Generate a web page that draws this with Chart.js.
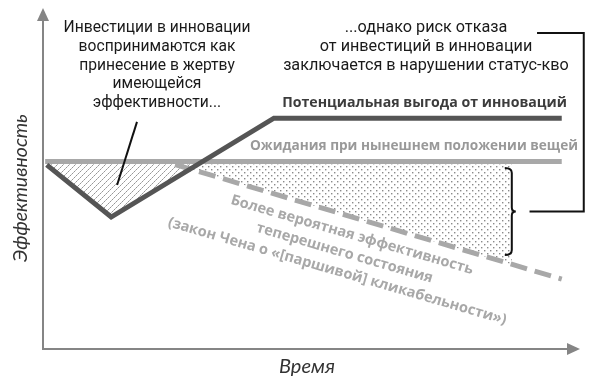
<!DOCTYPE html>
<html><head><meta charset="utf-8">
<script src="https://cdn.jsdelivr.net/npm/chart.js@4.4.0/dist/chart.umd.min.js"></script>
<style>html,body{margin:0;padding:0;background:#fff}#wrap{width:600px;height:386px}</style>
</head><body><div id="wrap"><canvas id="c" width="600" height="386"></canvas></div>
<script>
// ---- data (arbitrary units: time 0..100, effectiveness 0..100) ----
const potentialX   = [0.7, 12.7, 43, 96.6];
const potentialY   = [54, 38.7, 67.7, 67.7];
const expectationX = [0.4, 96.6];
const expectationY = [55, 55];
const likelyX      = [24.6, 96.6];
const likelyY      = [54.1, 20.5];
const riskZoneX    = [24.6, 87.3];
const riskZoneY    = [54.1, 24.8];
const expectationLevel = 55;

// ---- texts ----
const leftNote  = ['Инвестиции в инновации', 'воспринимаются как', 'принесение в жертву', 'имеющейся', 'эффективности...'];
const rightNote = ['...однако риск отказа', 'от инвестиций в инновации', 'заключается в нарушении статус-кво'];
const potentialLabel   = 'Потенциальная выгода от инноваций';
const expectationLabel = 'Ожидания при нынешнем положении вещей';
const likelyLabel = ['Более вероятная эффективность', 'теперешнего состояния', '(закон Чена о «[паршивой] кликабельности»)'];
const xTitle = 'Время';
const yTitle = 'Эффективность';

// annotation anchors in data units
const pointerLine = [[17.5, 66.6], [13.8, 48.1]];
const bracket = {x: 87.3, top: 53.1, bottom: 27.6};
const connector = [[90.6, 40.3], [100.7, 40.3], [100.7, 92.7], [92, 92.7]];

function pts(xs, ys) { return xs.map((x, i) => ({x, y: ys[i]})); }

function makeHatch() {
  const c = document.createElement('canvas'); c.width = 6; c.height = 6;
  const g = c.getContext('2d');
  for (let i = 0; i < 6; i++) { g.fillStyle = i % 2 ? '#bcbcbc' : '#969696'; g.fillRect(i, 5 - i, 1, 1); }
  return g.createPattern(c, 'repeat');
}
function makeDots() {
  const c = document.createElement('canvas'); c.width = 6; c.height = 6;
  const g = c.getContext('2d'); g.fillStyle = '#8a8a8a';
  g.fillRect(1, 1, 1.4, 1.4); g.fillRect(4, 4, 1.4, 1.4);
  return g.createPattern(c, 'repeat');
}
const hatch = makeHatch();
const dots = makeDots();

const SANS = '"Open Sans", "Noto Sans", sans-serif';
const NOTE = 'Roboto, "Open Sans", sans-serif';
function fitFont(ctx, text, width, prefix, family) {
  ctx.font = prefix + ' 100px ' + family;
  const s = 100 * width / ctx.measureText(text).width;
  return prefix + ' ' + s.toFixed(2) + 'px ' + family;
}

const annotate = {
  id: 'annotate',
  afterDatasetsDraw(chart) {
    const ctx = chart.ctx, xs = chart.scales.x, ys = chart.scales.y;
    const X = v => xs.getPixelForValue(v), Y = v => ys.getPixelForValue(v);
    const ca = chart.chartArea;
    ctx.save();
    // axes with arrows
    ctx.strokeStyle = '#858585'; ctx.fillStyle = '#858585'; ctx.lineWidth = 2;
    const ox = X(0), oy = Y(0);
    ctx.beginPath(); ctx.moveTo(ox, oy + 1); ctx.lineTo(ox, ca.top + 12); ctx.stroke();
    ctx.beginPath(); ctx.moveTo(ox - 1, oy); ctx.lineTo(ca.right - 12, oy); ctx.stroke();
    ctx.beginPath(); ctx.moveTo(ox, ca.top); ctx.lineTo(ox - 6, ca.top + 13); ctx.lineTo(ox + 6, ca.top + 13); ctx.closePath(); ctx.fill();
    ctx.beginPath(); ctx.moveTo(ca.right, oy); ctx.lineTo(ca.right - 13, oy - 6); ctx.lineTo(ca.right - 13, oy + 6); ctx.closePath(); ctx.fill();

    // pointer line
    ctx.strokeStyle = '#111'; ctx.lineWidth = 2;
    ctx.beginPath(); ctx.moveTo(X(pointerLine[0][0]), Y(pointerLine[0][1])); ctx.lineTo(X(pointerLine[1][0]), Y(pointerLine[1][1])); ctx.stroke();

    // curly bracket
    const bx = X(bracket.x), bt = Y(bracket.top), bb = Y(bracket.bottom), bm = (bt + bb) / 2;
    ctx.beginPath();
    ctx.moveTo(bx - 7, bt);
    ctx.quadraticCurveTo(bx, bt, bx, bt + 5);
    ctx.lineTo(bx, bm - 4);
    ctx.quadraticCurveTo(bx, bm, bx + 4, bm);
    ctx.quadraticCurveTo(bx, bm, bx, bm + 4);
    ctx.lineTo(bx, bb - 5);
    ctx.quadraticCurveTo(bx, bb, bx - 7, bb);
    ctx.stroke();
    // connector
    ctx.beginPath();
    connector.forEach((p, i) => i ? ctx.lineTo(X(p[0]), Y(p[1])) : ctx.moveTo(X(p[0]), Y(p[1])));
    ctx.stroke();

    // texts
    ctx.textAlign = 'center'; ctx.textBaseline = 'middle';
    ctx.fillStyle = '#1a1a1a';
    ctx.font = fitFont(ctx, leftNote[0], 187, '', NOTE);
    leftNote.forEach((t, i) => ctx.fillText(t, 157, 28 + i * 18.8));
    ctx.font = fitFont(ctx, rightNote[2], 286, '', NOTE);
    rightNote.forEach((t, i) => ctx.fillText(t, 426, 28 + i * 19));

    ctx.textAlign = 'right';
    ctx.fillStyle = '#3c3c3c'; ctx.font = fitFont(ctx, potentialLabel, 285, 'bold', SANS);
    ctx.fillText(potentialLabel, 567, 103);
    ctx.fillStyle = '#999'; ctx.font = fitFont(ctx, expectationLabel, 328, 'bold', SANS);
    ctx.fillText(expectationLabel, 578, 146);

    // rotated label along the dashed line
    const ang = Math.atan2(Y(likelyY[1]) - Y(likelyY[0]), X(likelyX[1]) - X(likelyX[0]));
    ctx.save();
    ctx.translate(352, 235); ctx.rotate(ang - 0.005);
    ctx.textAlign = 'center'; ctx.fillStyle = '#a8a8a8';
    ctx.font = fitFont(ctx, likelyLabel[0], 252, 'bold', SANS);
    likelyLabel.forEach((t, i) => ctx.fillText(t, -2 * i, i * 19.5));
    ctx.restore();

    // axis titles
    ctx.fillStyle = '#333';
    ctx.textAlign = 'center';
    ctx.font = fitFont(ctx, xTitle, 56, 'italic', 'Lato, "DejaVu Sans", sans-serif');
    ctx.fillText(xTitle, 307, 367);
    ctx.save(); ctx.translate(21, 188); ctx.rotate(-Math.PI / 2);
    ctx.font = fitFont(ctx, yTitle, 148, 'italic', 'Lato, "DejaVu Sans", sans-serif');
    ctx.fillText(yTitle, 0, 0); ctx.restore();
    ctx.restore();
  }
};

new Chart(document.getElementById('c'), {
  type: 'line',
  data: {
    datasets: [
      { label: 'potential', data: pts(potentialX, potentialY), borderColor: '#555', borderWidth: 5,
        fill: {value: expectationLevel, above: 'rgba(0,0,0,0)', below: hatch}, borderJoinStyle: 'miter' },
      { label: 'expectation', data: pts(expectationX, expectationY), borderColor: '#a8a8a8', borderWidth: 5, fill: false },
      { label: 'likely', data: pts(likelyX, likelyY), borderColor: '#a8a8a8', borderWidth: 5, borderDash: [17, 8], fill: false, borderCapStyle: 'butt' },
      { label: 'risk', data: pts(riskZoneX, riskZoneY), borderWidth: 0, borderColor: 'rgba(0,0,0,0)',
        fill: {value: expectationLevel}, backgroundColor: dots }
    ]
  },
  options: {
    responsive: false, animation: false, devicePixelRatio: 1,
    layout: { padding: { left: 43, top: 8, right: 20, bottom: 37 } },
    elements: { point: { radius: 0 }, line: { tension: 0 } },
    scales: {
      x: { type: 'linear', min: 0, max: 100, display: false },
      y: { type: 'linear', min: 0, max: 100, display: false }
    },
    plugins: { legend: { display: false }, tooltip: { enabled: false }, filler: { drawTime: 'beforeDatasetsDraw' } }
  },
  plugins: [annotate]
});
</script></body></html>
